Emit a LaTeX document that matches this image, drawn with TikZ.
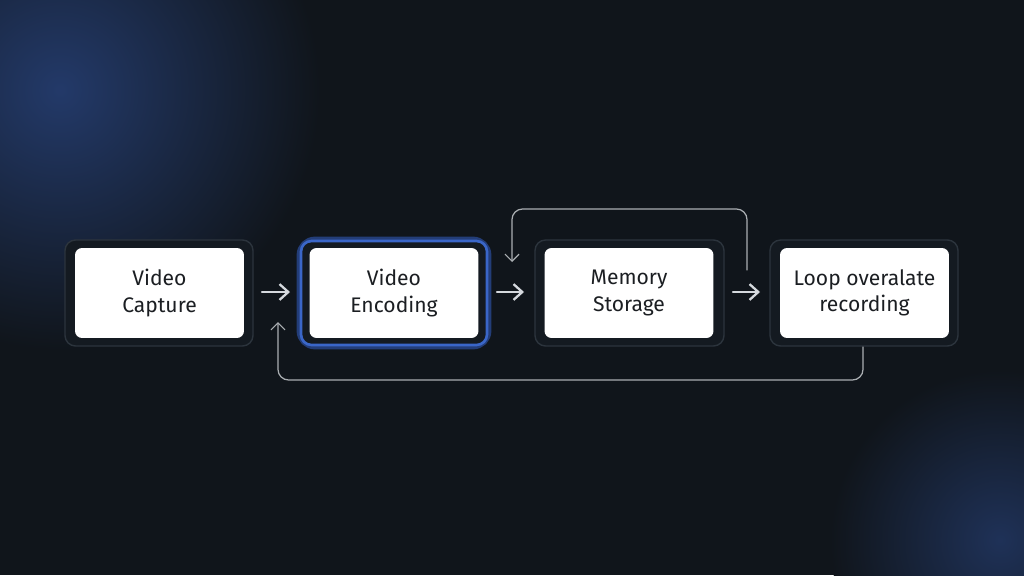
\documentclass[tikz,border=0pt]{standalone}
\usepackage{fontspec}
\setmainfont{Fira Sans}
\usetikzlibrary{positioning,arrows.meta}
\definecolor{bgdark}{HTML}{10151B}
\definecolor{framec}{HTML}{141A21}
\definecolor{frameline}{HTML}{2C343D}
\definecolor{glowblue}{HTML}{3A66C8}
\definecolor{linec}{HTML}{D5D9DE}
\definecolor{txt}{HTML}{1B1E22}
\begin{document}
\begin{tikzpicture}[x=0.02cm,y=-0.02cm, line join=round, line cap=round,
  frame/.style={draw=frameline, fill=framec, rounded corners=6pt, line width=0.8pt},
  card/.style={fill=white, rounded corners=4pt, minimum width=3.38cm, minimum height=1.8cm,
    align=center, text=txt, font=\fontsize{12}{15}\selectfont},
  flow/.style={-{Straight Barb[length=5pt,width=9pt]}, draw=linec, line width=1.3pt},
  loop/.style={-{Straight Barb[length=4pt,width=8pt]}, draw=linec!80!black, line width=0.7pt, rounded corners=6pt}]
% background
\fill[bgdark] (0,0) rectangle (1024,575);
\begin{scope}
\clip (0,0) rectangle (1024,575);
\shade[inner color=glowblue!45!bgdark, outer color=bgdark] (60,90) circle (5.2cm);
\shade[inner color=glowblue!35!bgdark, outer color=bgdark] (1000,540) circle (3.4cm);
\end{scope}
\useasboundingbox (0,0) rectangle (1024,575);
% frames
\draw[frame] (65,240) rectangle (253,346);
\draw[glowblue!60!black, line width=5pt, rounded corners=8pt] (301,241) rectangle (487,345);
\draw[frame, draw=glowblue, line width=1.5pt] (301,241) rectangle (487,345);
\draw[frame] (535,240) rectangle (724,346);
\draw[frame] (770,240) rectangle (958,346);
% cards
\node[card] (cap) at (159.5,293) {Video\\Capture};
\node[card] (enc) at (394,293) {Video\\Encoding};
\node[card] (mem) at (629,293) {Memory\\Storage};
\node[card] (rec) at (864.5,293) {Loop overalate\\recording};
% arrows
\coordinate (a1) at (262,292); \coordinate (b1) at (290,292);
\coordinate (a2) at (497,292); \coordinate (b2) at (524,292);
\coordinate (a3) at (733,292); \coordinate (b3) at (760,292);
\draw[flow] (a1) -- (b1);
\draw[flow] (a2) -- (b2);
\draw[flow] (a3) -- (b3);
% feedback loops
\coordinate (t1) at (747,270); \coordinate (t2) at (512,262);
\draw[loop] (t1) -- (747,209) -- (512,209) -- (t2);
\coordinate (u1) at (863,347); \coordinate (u2) at (278,322);
\draw[loop] (u1) -- (863,380) -- (278,380) -- (u2);
\end{tikzpicture}
\end{document}
